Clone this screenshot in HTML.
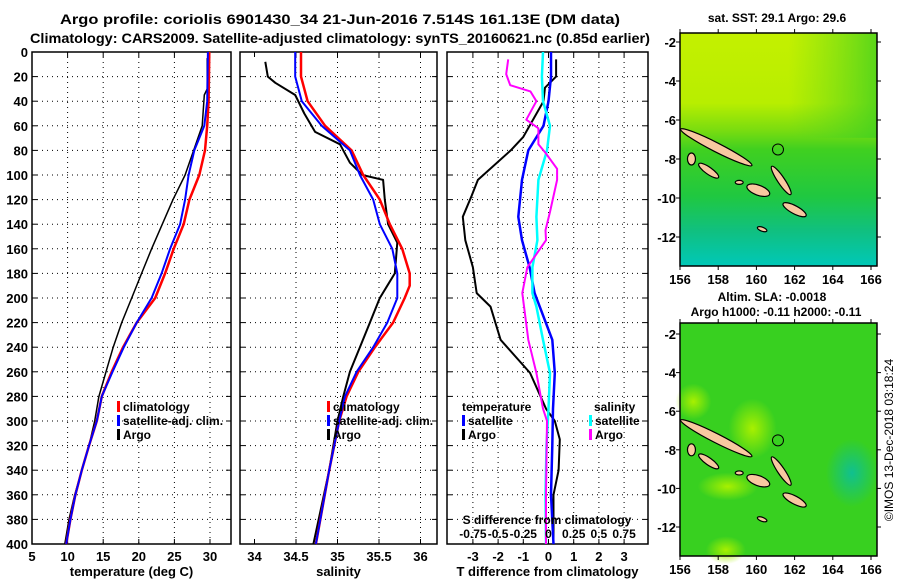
<!DOCTYPE html>
<html><head><meta charset="utf-8">
<style>
html,body{margin:0;padding:0;background:#fff;}
svg{display:block;font-family:"Liberation Sans",sans-serif;font-weight:bold;}
</style></head>
<body>
<svg id="chart" width="900" height="580" viewBox="0 0 900 580" xmlns="http://www.w3.org/2000/svg">
<text x="340" y="24" font-size="14" text-anchor="middle" textLength="560" lengthAdjust="spacingAndGlyphs">Argo profile: coriolis 6901430_34 21-Jun-2016 7.514S 161.13E (DM data)</text>
<text x="340" y="43" font-size="14" text-anchor="middle" textLength="620" lengthAdjust="spacingAndGlyphs">Climatology: CARS2009. Satellite-adjusted climatology: synTS_20160621.nc (0.85d earlier)</text>
<g id="panels"></g>
<g id="maps"></g>
<text transform="translate(893,440) rotate(-90)" font-size="12" font-weight="normal" text-anchor="middle">©IMOS 13-Dec-2018 03:18:24</text>
</svg>
<script>
// ---------- DATA ----------
const depthTicks = [0,20,40,60,80,100,120,140,160,180,200,220,240,260,280,300,320,340,360,380,400];
const tempTicks = [5,10,15,20,25,30];
const salTicks = [34,34.5,35,35.5,36];
const tdiffTicks = [-3,-2,-1,0,1,2,3];
const sdiffTicks = [-0.75,-0.5,-0.25,0,0.25,0.5,0.75];
const sdiffLabels = ["-0.75","-0.5","-0.25","0","0.25","0.5","0.75"];

const tArgoDepth = [5,30,35,60,70,100,120,140,160,180,200,220,240,260,280,300,320,340,360,380,400];
const tArgoVal   = [29.6,29.6,29.2,28.9,28.3,26.5,24.8,23.3,21.8,20.4,19.0,17.6,16.4,15.4,14.4,13.8,13.0,12.0,11.0,10.2,9.6];
const climDepth = [0,40,60,80,100,120,140,160,180,200,220,240,260,280,300,320,340,360,380,400];
const tClimVal  = [29.9,29.8,29.6,29.3,28.5,27.1,26.3,24.9,23.7,22.3,19.7,17.8,16.2,14.8,14.1,13.0,12.0,11.1,10.4,9.8];
const tSatVal   = [29.7,29.6,29.2,27.8,27.0,26.5,25.8,24.4,23.2,21.8,19.7,17.9,16.3,14.8,14.1,13.0,12.0,11.1,10.4,9.8];

const sArgoDepth = [8,20,25,35,50,65,75,90,100,104,120,140,155,180,190,200,220,240,260,280,300,340,400];
const sArgoVal   = [34.13,34.16,34.25,34.49,34.6,34.73,35.03,35.15,35.3,35.55,35.57,35.61,35.72,35.69,35.6,35.51,35.39,35.27,35.15,35.07,35.0,34.9,34.71];
const sClimDepth = [0,20,40,60,80,100,120,140,160,180,190,200,220,240,260,280,300,340,400];
const sClimVal   = [34.56,34.56,34.64,34.85,35.17,35.31,35.51,35.63,35.78,35.87,35.87,35.81,35.67,35.45,35.25,35.11,35.02,34.9,34.74];
const sSatVal    = [34.49,34.49,34.57,34.81,35.15,35.27,35.43,35.51,35.66,35.72,35.72,35.72,35.6,35.43,35.23,35.09,35.02,34.9,34.74];

const dtArgoDepth = [6,20,29,40,69,80,104,117,134,153,175,196,207,234,261,290,300,315,340,360,400];
const dtArgoVal   = [0.3,0.3,-0.14,-0.2,-1.0,-1.5,-2.8,-3.05,-3.4,-3.3,-3.0,-2.85,-2.3,-1.9,-0.73,-0.1,0.25,0.45,0.4,0.2,0.2];
const diffDepth = [0,20,40,60,80,104,134,153,175,196,207,234,261,290,320,360,400];
const dtSatVal  = [0.1,0.1,0,-0.2,-0.8,-1.05,-1.2,-1.05,-0.75,-0.55,-0.35,0.15,0.25,0.18,0.15,0.1,0.2];
const dsSatVal  = [-0.055,-0.065,-0.055,0.015,-0.015,-0.1,-0.12,-0.11,-0.16,-0.16,-0.12,-0.055,0.015,0,-0.02,-0.03,-0.025];
const dsArgoDepth = [6,18,27,32,40,55,62,75,82,95,104,130,145,153,175,196,234,261,290,300,360,400];
const dsArgoVal   = [-0.4,-0.42,-0.38,-0.18,-0.12,-0.22,-0.1,-0.1,-0.03,0.085,0.085,0.015,-0.03,-0.025,-0.21,-0.26,-0.2,-0.12,-0.055,-0.015,-0.025,-0.025];

const lonTicks = [156,158,160,162,164,166];
const latTicks = [-2,-4,-6,-8,-10,-12];
const argoLon = [161.13];
const argoLat = [-7.51];

// ---------- HELPERS ----------
const NS = "http://www.w3.org/2000/svg";
function mk(tag, attrs, parent){const e=document.createElementNS(NS,tag);for(const k in attrs)e.setAttribute(k,attrs[k]);if(parent)parent.appendChild(e);return e;}
const panels = document.getElementById('panels');
const Y0=52, Y1=544;
const yD = d => Y0 + (d/400)*(Y1-Y0);

function panel(name, x0, x1, xScale, xTicks, xLabels, gridTicks, title, showY){
  const g = mk('g',{},panels);
  
  
  depthTicks.forEach(d=>{ if(d>0&&d<400){ const l=mk('line',{x1:x0,x2:x1,y1:yD(d),y2:yD(d),stroke:'#000','stroke-width':1,'stroke-dasharray':'1,4'},g);
      }});
  gridTicks.forEach(v=>{ const x=xScale(v); const l=mk('line',{x1:x,x2:x,y1:Y0,y2:Y1,stroke:'#000','stroke-width':1,'stroke-dasharray':'1,4'},g);
      });
  const r=mk('rect',{x:x0,y:Y0,width:x1-x0,height:Y1-Y0,fill:'none',stroke:'#000','stroke-width':1.5},g);
   
  xTicks.forEach((v,i)=>{ const x=xScale(v);
    mk('line',{x1:x,x2:x,y1:Y1,y2:Y1-5,stroke:'#000'},g); mk('line',{x1:x,x2:x,y1:Y0,y2:Y0+5,stroke:'#000'},g);
    const t=mk('text',{x:x,y:561,'font-size':13,'text-anchor':'middle'},g); t.textContent=xLabels[i];
      });
  depthTicks.forEach(d=>{ mk('line',{x1:x0,x2:x0+5,y1:yD(d),y2:yD(d),stroke:'#000'},g); mk('line',{x1:x1,x2:x1-5,y1:yD(d),y2:yD(d),stroke:'#000'},g);
    if(showY){ const t=mk('text',{x:28,y:yD(d)+5,'font-size':13,'text-anchor':'end'},g); t.textContent=d;
        }});
  const tt=mk('text',{x:(x0+x1)/2,y:576,'font-size':13,'text-anchor':'middle'},g); tt.textContent=title;
   
  return g;
}
function line(g, name, depths, vals, xScale, color, w){
  const pts = depths.map((d,i)=>xScale(vals[i]).toFixed(1)+','+yD(d).toFixed(1)).join(' ');
  const p = mk('polyline',{points:pts,fill:'none',stroke:color,'stroke-width':w,'stroke-linejoin':'round'},g);
  
  
}
function legend(g, x, y, items){
  items.forEach((it,i)=>{ const yy=y+i*14;
    mk('rect',{x:x,y:yy-10,width:3,height:11,fill:it[1]},g);
    const t=mk('text',{x:x+6,y:yy,'font-size':12},g); t.textContent=it[0];
      });
}

const xT = v => 32 + (v-5)*7.12;
const gT = panel('temperature-panel',32,231,xT,tempTicks,tempTicks.map(String),[10,15,20,25,30],'temperature (deg C)',true);
line(gT,'temp-argo-line',tArgoDepth,tArgoVal,xT,'#000',1.5);
line(gT,'temp-climatology-line',climDepth,tClimVal,xT,'#f00',2.5);
line(gT,'temp-satellite-line',climDepth,tSatVal,xT,'#00f',2);
legend(gT,117,411,[['climatology','#f00'],['satellite-adj. clim.','#00f'],['Argo','#000']]);

const xS = v => 254.5 + (v-34)*83;
const gS = panel('salinity-panel',240,437,xS,salTicks,['34','34.5','35','35.5','36'],[34.5,35,35.5,36],'salinity',false);
line(gS,'sal-argo-line',sArgoDepth,sArgoVal,xS,'#000',2);
line(gS,'sal-climatology-line',sClimDepth,sClimVal,xS,'#f00',2.5);
line(gS,'sal-satellite-line',sClimDepth,sSatVal,xS,'#00f',2);
legend(gS,327,411,[['climatology','#f00'],['satellite-adj. clim.','#00f'],['Argo','#000']]);

const xDT = v => 548.5 + v*25.2;
const xDS = v => 548.5 + v*4*25.2;
const gD = panel('difference-panel',447,648,xDT,tdiffTicks,tdiffTicks.map(String),[-3,-2,-1,0,1,2,3],'T difference from climatology',false);
line(gD,'tdiff-argo-line',dtArgoDepth,dtArgoVal,xDT,'#000',2);
line(gD,'tdiff-satellite-line',diffDepth,dtSatVal,xDT,'#00f',2.5);
line(gD,'sdiff-satellite-line',diffDepth,dsSatVal,xDS,'#0ff',2.5);
line(gD,'sdiff-argo-line',dsArgoDepth,dsArgoVal,xDS,'#f0f',2);
(function(){
  const t1=mk('text',{x:462,y:411,'font-size':12},gD); t1.textContent='temperature';
   
  const t2=mk('text',{x:594,y:411,'font-size':12},gD); t2.textContent='salinity';
   
  legend(gD,462,425,[['satellite','#00f'],['Argo','#000']]);
  legend(gD,589,425,[['satellite','#0ff'],['Argo','#f0f']]);
  const t3=mk('text',{x:547,y:524,'font-size':12,'text-anchor':'middle'},gD); t3.textContent='S difference from climatology';
   
  sdiffTicks.forEach((v,i)=>{ const t=mk('text',{x:xDS(v),y:538,'font-size':12,'text-anchor':'middle'},gD); t.textContent=sdiffLabels[i];
      });
})();

// ---------- MAPS ----------
const maps = document.getElementById('maps');
function drawMap(name, top, bottom, latTop, latBot, kind, titleLines, lonLabelY){
  const g = mk('g',{},maps);
  
  
  const X0=680, X1=877;
  const xL = lon => 680 + (lon-156)*19.1;
  const yL = lat => latTop + (-2-lat)*(latBot-latTop)/10;
  const id = name+'-grad';
  const defs = mk('defs',{},g);
  if(kind==='sst'){
    const lg = mk('linearGradient',{id:id,x1:0,y1:0,x2:0,y2:1},defs);
    [[0,'#c4f000'],[0.3,'#b8ee00'],[0.42,'#78dc10'],[0.5,'#40d020'],[0.7,'#20c840'],[0.85,'#10c080'],[1,'#00c8b8']].forEach(s=>mk('stop',{offset:s[0],'stop-color':s[1]},lg));
    mk('rect',{x:X0,y:top,width:X1-X0,height:bottom-top,fill:'url(#'+id+')'},g);
    const lg2 = mk('linearGradient',{id:id+'2',x1:0,y1:0,x2:1,y2:0},defs);
    [[0,'#c4f000',0],[0.55,'#60d820',0],[1,'#40d020',0.8]].forEach(s=>mk('stop',{offset:s[0],'stop-color':s[1],'stop-opacity':s[2]},lg2));
    mk('rect',{x:X0,y:top,width:X1-X0,height:(bottom-top)*0.45,fill:'url(#'+id+'2)'},g);
  } else {
    mk('rect',{x:X0,y:top,width:X1-X0,height:bottom-top,fill:'#38d020'},g);
    const rg = mk('radialGradient',{id:id},defs);
    mk('stop',{offset:0,'stop-color':'#a8f000'},rg); mk('stop',{offset:1,'stop-color':'#a8f000','stop-opacity':0},rg);
    mk('ellipse',{cx:xL(159.8),cy:yL(-6.9),rx:24,ry:30,fill:'url(#'+id+')'},g);
    mk('ellipse',{cx:xL(156.7),cy:yL(-5.5),rx:18,ry:18,fill:'url(#'+id+')'},g);
    mk('ellipse',{cx:xL(158.4),cy:yL(-13.2),rx:20,ry:14,fill:'url(#'+id+')'},g);
    mk('ellipse',{cx:xL(158.5),cy:yL(-9.9),rx:30,ry:14,fill:'url(#'+id+')'},g);
    const tg = mk('radialGradient',{id:id+'t'},defs);
    mk('stop',{offset:0,'stop-color':'#10c090'},tg); mk('stop',{offset:1,'stop-color':'#10c090','stop-opacity':0},tg);
    mk('ellipse',{cx:xL(165),cy:yL(-9.2),rx:26,ry:34,fill:'url(#'+id+'t)'},g);
  }
  const isl = [[157.9,-7.4,40,4.5,27],[161.3,-9.1,17,3.5,56],[160.1,-9.6,12,5,20],[162.0,-10.6,13,4,28],[157.5,-8.6,12,3.5,35],[156.6,-8.0,4,6,0],[159.1,-9.2,4,2,0],[160.3,-11.6,5,2,20]];
  isl.forEach(s=>{ const e=mk('ellipse',{cx:xL(s[0]),cy:yL(s[1]),rx:s[2],ry:s[3],fill:'#f8c8a0',stroke:'#000','stroke-width':1.2,transform:'rotate('+s[4]+' '+xL(s[0])+' '+yL(s[1])+')'},g);
      });
  const c = mk('circle',{cx:xL(argoLon[0]),cy:yL(argoLat[0]),r:5.5,fill:'none',stroke:'#000','stroke-width':1},g);
   
  const fr = mk('rect',{x:X0,y:top,width:X1-X0,height:bottom-top,fill:'none',stroke:'#000','stroke-width':1.5},g);
   
  lonTicks.forEach(lon=>{ const x=xL(lon); mk('line',{x1:x,x2:x,y1:bottom,y2:bottom+4,stroke:'#000'},g); mk('line',{x1:x,x2:x,y1:top,y2:top-4,stroke:'#000'},g);
    const t=mk('text',{x:x,y:lonLabelY,'font-size':13,'text-anchor':'middle'},g); t.textContent=lon;
      });
  latTicks.forEach(lat=>{ const y=yL(lat); mk('line',{x1:X0-4,x2:X0,y1:y,y2:y,stroke:'#000'},g); mk('line',{x1:X1,x2:X1+4,y1:y,y2:y,stroke:'#000'},g);
    const t=mk('text',{x:X0-4,y:y+5,'font-size':13,'text-anchor':'end'},g); t.textContent=lat;
      });
  titleLines.forEach((s,i)=>{ const t=mk('text',{x:s[1],y:s[2],'font-size':12,'text-anchor':'middle'},g); t.textContent=s[0];
      });
}
drawMap('sst-map',33,266,42,237,'sst',[['sat. SST: 29.1 Argo: 29.6',777,22]],284);
drawMap('sla-map',323,556,334,527,'sla',[['Altim. SLA: -0.0018',772,301],['Argo h1000: -0.11 h2000: -0.11',776,316]],574);
</script>
</body></html>
